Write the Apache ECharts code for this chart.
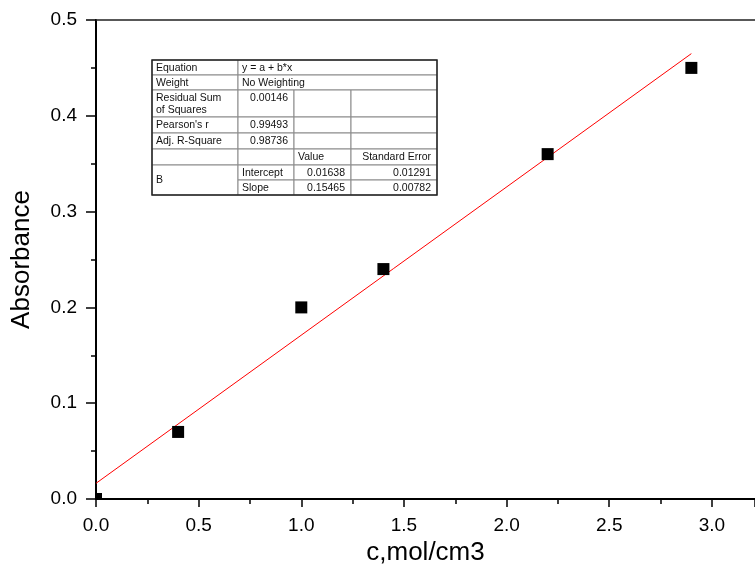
<!DOCTYPE html>
<html>
<head>
<meta charset="utf-8">
<script src="https://cdn.jsdelivr.net/npm/echarts@6/dist/echarts.min.js"></script>
<style>
html, body { margin: 0; padding: 0; background: #fff; }
#main { width: 755px; height: 579px; }
</style>
</head>
<body>
<div id="main"></div>
<script>
// measured points
var conc = [0, 0.4, 1.0, 1.4, 2.2, 2.9];
var absorb = [0, 0.07, 0.2, 0.24, 0.36, 0.45];

// linear fit line ends
var fitX = [0, 2.9];
var fitY = [0.01638, 0.4649];

// fit table: [text, col, row, colSpan, rowSpan, align]
var tableCells = [
  ['Equation', 0, 0, 1, 1, 'left'],
  ['y = a + b*x', 1, 0, 3, 1, 'left'],
  ['Weight', 0, 1, 1, 1, 'left'],
  ['No Weighting', 1, 1, 3, 1, 'left'],
  ['Residual Sum\nof Squares', 0, 2, 1, 1, 'left'],
  ['0.00146', 1, 2, 1, 1, 'right'],
  ['', 2, 2, 1, 1, 'left'],
  ['', 3, 2, 1, 1, 'left'],
  ["Pearson's r", 0, 3, 1, 1, 'left'],
  ['0.99493', 1, 3, 1, 1, 'right'],
  ['', 2, 3, 1, 1, 'left'],
  ['', 3, 3, 1, 1, 'left'],
  ['Adj. R-Square', 0, 4, 1, 1, 'left'],
  ['0.98736', 1, 4, 1, 1, 'right'],
  ['', 2, 4, 1, 1, 'left'],
  ['', 3, 4, 1, 1, 'left'],
  ['', 0, 5, 1, 1, 'left'],
  ['', 1, 5, 1, 1, 'left'],
  ['Value', 2, 5, 1, 1, 'left'],
  ['Standard Error', 3, 5, 1, 1, 'right'],
  ['B', 0, 6, 1, 2, 'left'],
  ['Intercept', 1, 6, 1, 1, 'left'],
  ['0.01638', 2, 6, 1, 1, 'right'],
  ['0.01291', 3, 6, 1, 1, 'right'],
  ['Slope', 1, 7, 1, 1, 'left'],
  ['0.15465', 2, 7, 1, 1, 'right'],
  ['0.00782', 3, 7, 1, 1, 'right']
];

var colX = [152, 238, 294, 351, 437];
var rowY = [60, 75, 90, 117, 133, 149, 165, 180, 195];

var chart = echarts.init(document.getElementById('main'));

var tableGraphics = [];
tableCells.forEach(function (c) {
  var x0 = colX[c[1]], x1 = colX[c[1] + c[3]];
  var y0 = rowY[c[2]], y1 = rowY[c[2] + c[4]];
  tableGraphics.push({
    type: 'rect',
    shape: { x: x0, y: y0, width: x1 - x0, height: y1 - y0 },
    style: { fill: '#fff', stroke: '#8a8a8a', lineWidth: 1 },
    z: 100
  });
  if (c[0]) {
    var centerV = c[4] > 1;
    tableGraphics.push({
      type: 'text',
      x: c[5] == 'right' ? x1 - 6 : x0 + 4,
      y: centerV ? (y0 + y1) / 2 : y0 + 2,
      style: {
        text: c[0],
        fill: '#111',
        font: '10.5px "Liberation Sans", Arial, sans-serif',
        textAlign: c[5],
        textVerticalAlign: centerV ? 'middle' : 'top',
        lineHeight: 12
      },
      z: 101
    });
  }
});
tableGraphics.push({
  type: 'rect',
  shape: { x: colX[0], y: rowY[0], width: colX[4] - colX[0], height: rowY[8] - rowY[0] },
  style: { fill: 'none', stroke: '#222', lineWidth: 1.5 },
  z: 102
});

var fontFam = '"Liberation Sans", Arial, sans-serif';

var option = {
  backgroundColor: '#fff',
  animation: false,
  grid: { left: 96, top: 20, right: 0, bottom: 80, containLabel: false },
  xAxis: [{
    type: 'value',
    min: 0,
    max: 3.21,
    interval: 0.5,
    name: 'c,mol/cm3',
    nameLocation: 'middle',
    nameGap: 41,
    nameTextStyle: { fontFamily: fontFam, fontSize: 26, color: '#000' },
    axisLine: { onZero: false, lineStyle: { color: '#000', width: 2 } },
    axisTick: { length: 8, lineStyle: { color: '#000', width: 1.5 } },
    minorTick: { show: true, splitNumber: 2, length: 5, lineStyle: { color: '#000', width: 1.5 } },
    axisLabel: {
      margin: 17, fontFamily: fontFam, fontSize: 19, color: '#000',
      showMaxLabel: false,
      formatter: function (v) { return v.toFixed(1); }
    },
    splitLine: { show: false }
  }, {
    type: 'value',
    position: 'top',
    min: 0,
    max: 3.21,
    axisLine: { show: true, onZero: false, lineStyle: { color: '#222', width: 1.5 } },
    axisTick: { show: false },
    axisLabel: { show: false },
    splitLine: { show: false }
  }],
  yAxis: {
    type: 'value',
    min: 0,
    max: 0.5,
    interval: 0.1,
    name: 'Absorbance',
    nameLocation: 'middle',
    nameGap: 61,
    nameTextStyle: { fontFamily: fontFam, fontSize: 26, color: '#000' },
    axisLine: { show: true, onZero: false, lineStyle: { color: '#000', width: 2 } },
    axisTick: { length: 10, lineStyle: { color: '#000', width: 1.5 } },
    minorTick: { show: true, splitNumber: 2, length: 5, lineStyle: { color: '#000', width: 1.5 } },
    axisLabel: {
      margin: 19, fontFamily: fontFam, fontSize: 19, color: '#000',
      formatter: function (v) { return v.toFixed(1); }
    },
    splitLine: { show: false }
  },
  series: [{
    type: 'line',
    data: fitX.map(function (x, i) { return [x, fitY[i]]; }),
    showSymbol: false,
    symbol: 'none',
    lineStyle: { color: '#ff0000', width: 1 },
    z: 2
  }, {
    type: 'custom',
    clip: true,
    data: conc.map(function (c, i) { return [c, absorb[i]]; }),
    encode: { x: 0, y: 1 },
    renderItem: function (params, api) {
      var p = api.coord([api.value(0), api.value(1)]);
      return {
        type: 'rect',
        shape: { x: p[0] - 6, y: p[1] - 6, width: 12, height: 12 },
        style: { fill: '#000' }
      };
    },
    z: 3
  }],
  graphic: tableGraphics
};

chart.setOption(option);
</script>
</body>
</html>
